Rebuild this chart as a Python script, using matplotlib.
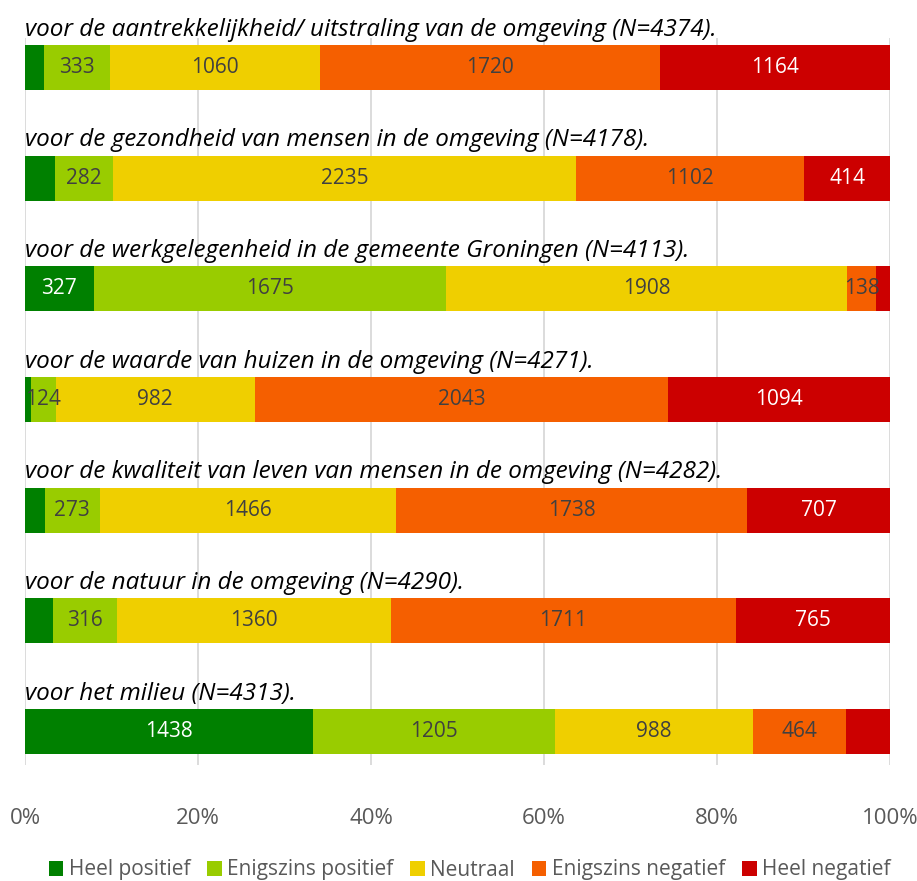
import matplotlib
matplotlib.use("Agg")
import matplotlib.pyplot as plt
import numpy as np

categories = [
    "voor de aantrekkelijkheid/ uitstraling van de omgeving (N=4374).",
    "voor de gezondheid van mensen in de omgeving (N=4178).",
    "voor de werkgelegenheid in de gemeente Groningen (N=4113).",
    "voor de waarde van huizen in de omgeving (N=4271).",
    "voor de kwaliteit van leven van mensen in de omgeving (N=4282).",
    "voor de natuur in de omgeving (N=4290).",
    "voor het milieu (N=4313).",
]
series_names = ["Heel positief", "Enigszins positief", "Neutraal", "Enigszins negatief", "Heel negatief"]
heel_positief = [97, 145, 327, 28, 98, 138, 1438]
enigszins_positief = [333, 282, 1675, 124, 273, 316, 1205]
neutraal = [1060, 2235, 1908, 982, 1466, 1360, 988]
enigszins_negatief = [1720, 1102, 138, 2043, 1738, 1711, 464]
heel_negatief = [1164, 414, 65, 1094, 707, 765, 218]
# which values carry a data label
show_label = [
    [False, True, True, True, True],
    [False, True, True, True, True],
    [True, True, True, True, False],
    [False, True, True, True, True],
    [False, True, True, True, True],
    [False, True, True, True, True],
    [True, True, True, True, False],
]
colors = ["#008000", "#99CC00", "#EFCF00", "#F55F00", "#CC0000"]
label_colors = ["white", "#404040", "#404040", "#404040", "white"]
xticks = [0, 20, 40, 60, 80, 100]

font = "Open Sans"
plt.rcParams['font.family'] = [font, 'DejaVu Sans']

fig = plt.figure(figsize=(9.17, 8.81), dpi=100)
ax = fig.add_axes([25/917, 1-765/881, 865/917, (765-38)/881])

data = np.array([heel_positief, enigszins_positief, neutraal, enigszins_negatief, heel_negatief], dtype=float)
totals = data.sum(axis=0)
pct = data / totals * 100
y = np.arange(len(categories))
left = np.zeros(len(categories))
h = 0.405
for s in range(5):
    ax.barh(y, pct[s], left=left, height=h, color=colors[s], label=series_names[s], zorder=3)
    for i in range(len(categories)):
        if show_label[i][s]:
            ax.text(left[i] + pct[s][i]/2, y[i], f"{int(data[s][i])}", ha='center', va='center',
                    fontsize=15, color=label_colors[s], zorder=4)
    left += pct[s]

for i, c in enumerate(categories):
    ax.text(0, y[i] - h/2 - 0.03, c, ha='left', va='bottom', fontsize=17.5, style='italic',
            color='black', zorder=5)

ax.set_xlim(0, 100)
ax.set_ylim(6.303, -0.267)
ax.set_xticks(xticks)
ax.set_xticklabels([f"{t}%" for t in xticks], fontsize=16, color='#595959')
ax.tick_params(axis='x', length=0, pad=31)
ax.set_yticks([])
ax.grid(axis='x', color='#D9D9D9', linewidth=1.3, zorder=0)
for sp in ax.spines.values():
    sp.set_visible(False)

leg = fig.legend(loc='center', bbox_to_anchor=(0.512, 1-870/881), ncol=5, frameon=False,
                 fontsize=15, handlelength=0.7, handleheight=0.7, handletextpad=0.25,
                 columnspacing=0.82, borderaxespad=0)
for t in leg.get_texts():
    t.set_color('#595959')

fig.savefig("out.png", dpi=100)
